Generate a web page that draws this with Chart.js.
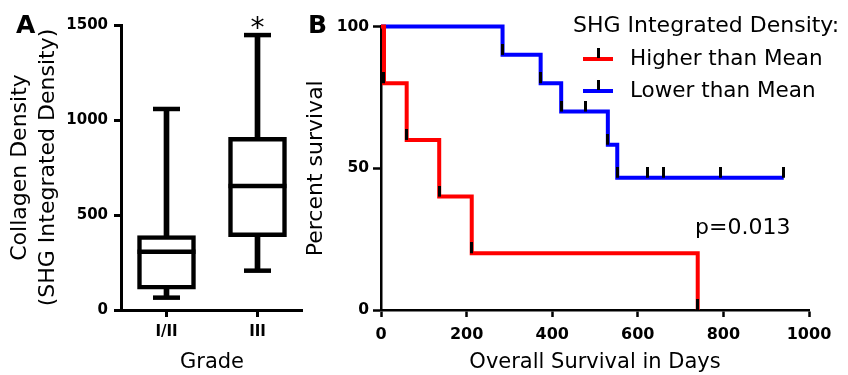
<!DOCTYPE html>
<html>
<head>
<meta charset="utf-8">
<script src="https://cdn.jsdelivr.net/npm/chart.js@4.4.0/dist/chart.umd.min.js"></script>
<style>
    html, body { margin: 0; padding: 0; background: #fff; }
    body { width: 848px; height: 375px; position: relative; overflow: hidden;
           font-family: 'DejaVu Sans', sans-serif; color: #000; }
    canvas { position: absolute; top: 0; }
    #boxChart { left: 0; }
    #survChart { left: 300px; }
    .txt { position: absolute; white-space: nowrap; line-height: 1; }
    .panel { font-size: 25px; font-weight: bold; }
    .sample { position: absolute; }
</style>
</head>
<body>
<canvas id="boxChart" width="303" height="375"></canvas>
<canvas id="survChart" width="548" height="375"></canvas>
<div class="txt panel" style="left:16px; top:12px;">A</div>
<div class="txt panel" style="left:308px; top:12px;">B</div>
<div class="txt" style="left:573px; top:14.4px; font-size:22px;">SHG Integrated Density:</div>
<div id="legend"></div>
<div class="txt" style="left:695px; top:216.4px; font-size:22px;">p=0.013</div>
<script>
// 图A：各分级的胶原密度箱线图
const grades = ['I/II', 'III'];
const boxMin = [65, 207];
const boxQ1 = [110, 386];
const boxMedian = [307, 653];
const boxQ3 = [392, 909];
const boxMax = [1058, 1447];
const boxMarks = ['', '*'];
const densityTicks = [0, 500, 1000, 1500];

// 图B：生存曲线（高于均值 / 低于均值）
const seriesNames = ['Higher than Mean', 'Lower than Mean'];
const seriesColors = ['#ff0000', '#0000ff'];
const hiDays = [0, 7, 60, 136, 212, 740];
const hiSurv = [100, 80, 60, 40, 20, 0];
const loDays = [0, 284, 373, 421, 530, 552, 941];
const loSurv = [100, 90, 80, 70, 58.33, 46.67, 46.67];
const loCensorDays = [478, 622, 661, 793, 941];
const loCensorSurv = [70, 46.67, 46.67, 46.67, 46.67];
const dayTicks = [0, 200, 400, 600, 800, 1000];
const survTicks = [0, 50, 100];

Chart.defaults.font.family = "'DejaVu Sans', sans-serif";
Chart.defaults.color = '#000';

document.addEventListener('DOMContentLoaded', function() {
    drawBoxChart();
    drawSurvivalChart();
    buildLegend();
});

// 转成 {x, y} 点
function toPoints(xs, ys) {
    return xs.map((x, i) => ({ x: x, y: ys[i] }));
}

// 每次下降处的点（画黑色小竖线）
function dropPoints(days, surv) {
    const pts = [];
    for (let i = 1; i < days.length; i++) {
        if (surv[i] < surv[i - 1]) pts.push({ x: days[i], y: surv[i] });
    }
    return pts;
}

// 竖线标记：上半部分黑色，下半部分透明，让标记从点往上画
function makeTickMark() {
    const c = document.createElement('canvas');
    c.width = 3;
    c.height = 22;
    const g = c.getContext('2d');
    g.fillStyle = '#000';
    g.fillRect(0, 0, 3, 11);
    return c;
}

function fixedTicks(values) {
    return function(scale) {
        scale.ticks = values.map(v => ({ value: v }));
    };
}

// 不要千位分隔符
function plainNumber(value) {
    return String(value);
}

// 星号标注
const signifPlugin = {
    id: 'signifMarks',
    afterDatasetsDraw(chart) {
        const ctx = chart.ctx;
        const xs = chart.scales.x;
        const ys = chart.scales.y;
        ctx.save();
        ctx.font = "28px 'DejaVu Sans'";
        ctx.textAlign = 'center';
        ctx.textBaseline = 'alphabetic';
        ctx.fillStyle = '#000';
        boxMarks.forEach((m, i) => {
            if (m) ctx.fillText(m, xs.getPixelForValue(i), ys.getPixelForValue(boxMax[i]) + 2);
        });
        ctx.restore();
    }
};

function drawBoxChart() {
    const lineMark = (label, data, radius) => ({
        type: 'line',
        label: label,
        data: data,
        showLine: false,
        pointStyle: 'line',
        pointRadius: radius,
        pointBorderWidth: 4.5,
        pointBorderColor: '#000',
        clip: false,
        order: 0
    });

    new Chart(document.getElementById('boxChart'), {
        type: 'bar',
        data: {
            labels: grades,
            datasets: [
                lineMark('median', boxMedian, 29),
                lineMark('max', boxMax, 13.5),
                lineMark('min', boxMin, 13.5),
                {
                    label: 'box',
                    data: grades.map((g, i) => [boxQ1[i], boxQ3[i]]),
                    backgroundColor: '#fff',
                    borderColor: '#000',
                    borderWidth: 4.5,
                    borderSkipped: false,
                    barThickness: 58,
                    grouped: false,
                    order: 1
                },
                {
                    label: 'whisker',
                    data: grades.map((g, i) => [boxMin[i], boxMax[i]]),
                    backgroundColor: '#000',
                    borderWidth: 0,
                    barThickness: 5,
                    grouped: false,
                    order: 2
                }
            ]
        },
        options: {
            responsive: false,
            animation: false,
            events: [],
            layout: { autoPadding: false, padding: { left: 0, top: 25, right: 0, bottom: 0 } },
            plugins: { legend: { display: false }, tooltip: { enabled: false } },
            scales: {
                x: {
                    afterFit: function(scale) { scale.height = 65; },
                    grid: { offset: false, drawOnChartArea: false, tickLength: 7, tickWidth: 3, tickColor: '#000' },
                    border: { color: '#000', width: 3 },
                    ticks: { font: { size: 15, weight: 'bold' }, padding: 6 },
                    title: { display: true, text: 'Grade', font: { size: 21 }, padding: { top: 0, bottom: 0 } }
                },
                y: {
                    min: 0,
                    max: 1500,
                    afterBuildTicks: fixedTicks(densityTicks),
                    afterFit: function(scale) { scale.width = 121; },
                    grid: { drawOnChartArea: false, tickLength: 7, tickWidth: 3, tickColor: '#000' },
                    border: { color: '#000', width: 3 },
                    ticks: { font: { size: 15, weight: 'bold' }, padding: 6, callback: plainNumber },
                    title: {
                        display: true,
                        text: ['Collagen Density', '(SHG Integrated Density)'],
                        font: { size: 22, lineHeight: 1.25 },
                        padding: { top: 7, bottom: 0 }
                    }
                }
            }
        },
        plugins: [signifPlugin]
    });
}

function drawSurvivalChart() {
    const tick = makeTickMark();
    const markSet = (label, data) => ({
        label: label,
        data: data,
        showLine: false,
        pointStyle: tick,
        pointRadius: 3,
        clip: false,
        order: 0
    });
    // 'before'：先水平再垂直下降（Kaplan-Meier 阶梯）
    const curve = (i, days, surv) => ({
        label: seriesNames[i],
        data: toPoints(days, surv),
        stepped: 'before',
        borderColor: seriesColors[i],
        borderWidth: 4,
        pointRadius: 0,
        fill: false,
        clip: false,
        order: 1
    });

    new Chart(document.getElementById('survChart'), {
        type: 'line',
        data: {
            datasets: [
                markSet('hiMarks', dropPoints(hiDays, hiSurv)),
                markSet('loMarks', dropPoints(loDays, loSurv).concat(toPoints(loCensorDays, loCensorSurv))),
                curve(0, hiDays, hiSurv),
                curve(1, loDays, loSurv)
            ]
        },
        options: {
            responsive: false,
            animation: false,
            events: [],
            layout: { autoPadding: false, padding: { left: 0, top: 26.5, right: 39, bottom: 0 } },
            plugins: { legend: { display: false }, tooltip: { enabled: false } },
            scales: {
                x: {
                    type: 'linear',
                    min: 0,
                    max: 1000,
                    afterBuildTicks: fixedTicks(dayTicks),
                    afterFit: function(scale) { scale.height = 65; },
                    grid: { drawOnChartArea: false, tickLength: 7, tickWidth: 2.5, tickColor: '#000' },
                    border: { color: '#000', width: 2.5 },
                    ticks: { font: { size: 16, weight: 'bold' }, padding: 8, callback: plainNumber },
                    title: { display: true, text: 'Overall Survival in Days', font: { size: 21 }, padding: { top: 0, bottom: 0 } }
                },
                y: {
                    min: 0,
                    max: 100,
                    afterBuildTicks: fixedTicks(survTicks),
                    afterFit: function(scale) { scale.width = 81; },
                    grid: { drawOnChartArea: false, tickLength: 8, tickWidth: 2.5, tickColor: '#000' },
                    border: { color: '#000', width: 2.5 },
                    ticks: { font: { size: 15.5, weight: 'bold' }, padding: 4, callback: plainNumber },
                    title: {
                        display: true,
                        text: 'Percent survival',
                        font: { size: 22, lineHeight: 1.25 },
                        padding: { top: 3, bottom: 0 }
                    }
                }
            }
        }
    });
}

// 图例：彩色线段 + 黑色竖线标记 + 文字
function buildLegend() {
    const box = document.getElementById('legend');
    seriesNames.forEach((name, i) => {
        const top = 46.8 + i * 31.7;
        const lineY = top + 10.5;

        const line = document.createElement('div');
        line.className = 'sample';
        line.style.cssText = `left:583px; top:${lineY}px; width:30px; height:4px; background:${seriesColors[i]};`;
        box.appendChild(line);

        const mark = document.createElement('div');
        mark.className = 'sample';
        mark.style.cssText = `left:596.5px; top:${lineY - 9}px; width:3px; height:10px; background:#000;`;
        box.appendChild(mark);

        const label = document.createElement('div');
        label.className = 'txt';
        label.style.cssText = `left:630px; top:${top}px; font-size:21.5px;`;
        label.textContent = name;
        box.appendChild(label);
    });
}
</script>
</body>
</html>
